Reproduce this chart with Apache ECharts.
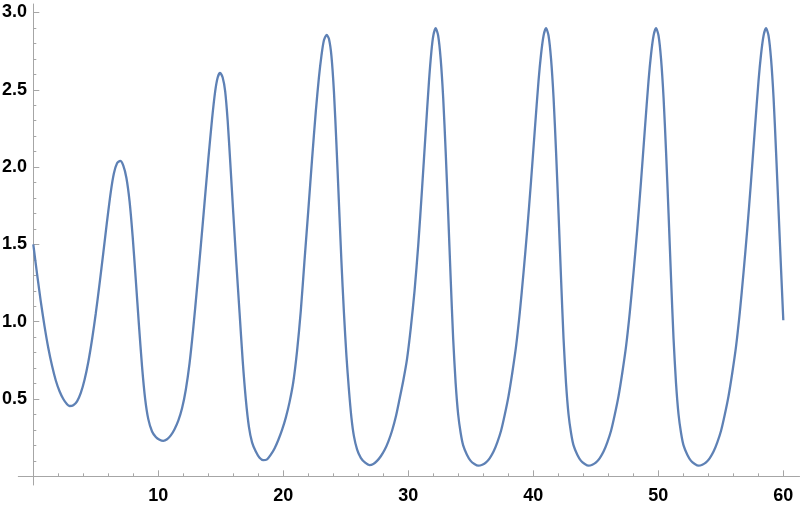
<!DOCTYPE html>
<html>
<head>
<meta charset="utf-8">
<script src="https://cdn.jsdelivr.net/npm/echarts@6/dist/echarts.min.js"></script>
<style>html,body{margin:0;padding:0;background:#fff}#c{width:800px;height:505px}</style>
</head>
<body>
<div id="c"></div>
<script>
// t values (time), cycle by cycle
const timeCycle1 = [0,0.3,0.6,0.9,1.2,1.5,1.8,2.1,2.4,2.7,2.9,3.2,3.5,3.8,4.1,4.4,4.7,5.0,5.3,5.6,5.9,6.2,6.45,6.7,6.95,7.2,7.45,7.7,7.95,8.2,8.45,8.7,8.95,9.2,9.5,9.8,10.1];
const valueCycle1 = [1.50,1.31,1.13,0.97,0.83,0.715,0.62,0.55,0.50,0.466,0.455,0.46,0.485,0.54,0.625,0.74,0.885,1.055,1.245,1.445,1.65,1.84,1.96,2.025,2.04,2.01,1.93,1.78,1.55,1.27,0.98,0.71,0.50,0.37,0.29,0.255,0.237];
const timeCycle2 = [10.4,10.7,11.0,11.3,11.6,11.9,12.2,12.5,12.8,13.1,13.4,13.7,14.0,14.3,14.55,14.75,14.94,15.15,15.35,15.55,15.75,16.0,16.25,16.5,16.75,17.0,17.25,17.5,17.8,18.1];
const valueCycle2 = [0.23,0.24,0.265,0.305,0.36,0.44,0.56,0.73,0.96,1.22,1.49,1.77,2.05,2.31,2.49,2.58,2.61,2.58,2.49,2.30,2.04,1.70,1.37,1.06,0.75,0.50,0.32,0.22,0.16,0.12];
const timeCycle3 = [18.4,18.7,19.0,19.3,19.6,19.9,20.2,20.5,20.8,21.1,21.4,21.7,22.0,22.3,22.6,22.85,23.05,23.25,23.47,23.65,23.85,24.05,24.25,24.45,24.65,24.85,25.05,25.25,25.45,25.65,25.9,26.2,26.55];
const valueCycle3 = [0.105,0.11,0.14,0.18,0.235,0.30,0.38,0.48,0.61,0.81,1.07,1.40,1.72,2.05,2.36,2.58,2.72,2.82,2.855,2.83,2.72,2.49,2.15,1.77,1.39,1.06,0.78,0.56,0.38,0.26,0.175,0.12,0.088];
const timeCycle4 = [26.9,27.2,27.5,27.8,28.1,28.4,28.7,29.0,29.3,29.6,29.9,30.2,30.5,30.8,31.1,31.4,31.65,31.85,32.0,32.19,32.39,32.59,32.79,32.99,33.19,33.39,33.59,33.79,33.99,34.19,34.39,34.69,34.99,35.29];
const valueCycle4 = [0.073,0.08,0.10,0.13,0.17,0.225,0.295,0.385,0.50,0.62,0.76,0.96,1.20,1.50,1.86,2.24,2.55,2.75,2.85,2.898,2.85,2.70,2.45,2.10,1.70,1.28,0.89,0.60,0.40,0.28,0.20,0.14,0.10,0.08];
const timeCycle5 = [35.6,35.92,36.22,36.52,36.82,37.12,37.42,37.72,38.02,38.32,38.62,38.92,39.22,39.52,39.82,40.12,40.42,40.62,40.82,41.02,41.22,41.42,41.62,41.82,42.02,42.22,42.42,42.62,42.82,43.02,43.22,43.52,43.82,44.12];
const valueCycle5 = [0.069,0.075,0.09,0.118,0.16,0.22,0.295,0.40,0.52,0.67,0.84,1.06,1.32,1.60,1.91,2.24,2.56,2.73,2.85,2.898,2.85,2.70,2.45,2.10,1.70,1.28,0.89,0.60,0.40,0.28,0.20,0.14,0.10,0.08];
const timeCycle6 = [44.42,44.72,45.02,45.32,45.62,45.92,46.22,46.52,46.82,47.12,47.42,47.72,48.02,48.32,48.62,48.92,49.22,49.42,49.62,49.82,50.02,50.22,50.42,50.62,50.82,51.02,51.22,51.42,51.62,51.82,52.02,52.32,52.62,52.92];
const valueCycle6 = [0.069,0.075,0.09,0.118,0.16,0.22,0.295,0.40,0.52,0.67,0.84,1.06,1.32,1.60,1.91,2.24,2.56,2.73,2.85,2.898,2.85,2.70,2.45,2.10,1.70,1.28,0.89,0.60,0.40,0.28,0.20,0.14,0.10,0.08];
const timeCycle7 = [53.22,53.52,53.82,54.12,54.42,54.72,55.02,55.32,55.62,55.92,56.22,56.52,56.82,57.12,57.42,57.72,58.02,58.22,58.42,58.62,58.82,59.02,59.22,59.42,59.62,59.82,60];
const valueCycle7 = [0.069,0.075,0.09,0.118,0.16,0.22,0.295,0.40,0.52,0.67,0.84,1.06,1.32,1.60,1.91,2.24,2.56,2.73,2.85,2.898,2.85,2.70,2.45,2.10,1.72,1.34,1.01];

const xTickLabels = [10,20,30,40,50,60];
const xMinorTicks = [2,4,6,8,12,14,16,18,22,24,26,28,32,34,36,38,42,44,46,48,52,54,56,58];
const yTickLabels = [0.5,1.0,1.5,2.0,2.5,3.0];
const yMinorTicks = [0.1,0.2,0.3,0.4,0.6,0.7,0.8,0.9,1.1,1.2,1.3,1.4,1.6,1.7,1.8,1.9,2.1,2.2,2.3,2.4,2.6,2.7,2.8,2.9];

const timeValues = [].concat(timeCycle1,timeCycle2,timeCycle3,timeCycle4,timeCycle5,timeCycle6,timeCycle7);
const seriesValues = [].concat(valueCycle1,valueCycle2,valueCycle3,valueCycle4,valueCycle5,valueCycle6,valueCycle7);

const axisGray = '#a6a6a6';
const labelFont = {color:'#000', fontFamily:'Liberation Sans, Arial, sans-serif', fontWeight:'bold', fontSize:18};
const X_MIN = -1.2, X_MAX = 61.3, Y_MIN = -0.056, Y_MAX = 3.055;

const chart = echarts.init(document.getElementById('c'), null, {renderer:'canvas'});
chart.setOption({
  animation:false,
  grid:{left:18.3, right:0.45, top:4, bottom:20, containLabel:false, outerBoundsMode:'none'},
  xAxis:[{
    type:'value', min:X_MIN, max:X_MAX, position:'bottom',
    axisLine:{show:true, onZero:true, lineStyle:{color:axisGray, width:1}},
    axisTick:{show:true, inside:true, length:6, customValues:xTickLabels, lineStyle:{color:axisGray}},
    axisLabel:{show:true, customValues:xTickLabels, margin:2, ...labelFont},
    splitLine:{show:false}
  },{
    type:'value', min:X_MIN, max:X_MAX, position:'bottom',
    axisLine:{show:false, onZero:true},
    axisTick:{show:true, inside:true, length:3, customValues:xMinorTicks, lineStyle:{color:axisGray}},
    axisLabel:{show:false},
    splitLine:{show:false}
  }],
  yAxis:[{
    type:'value', min:Y_MIN, max:Y_MAX, position:'left',
    axisLine:{show:true, onZero:true, lineStyle:{color:axisGray, width:1}},
    axisTick:{show:true, inside:true, length:6, customValues:yTickLabels, lineStyle:{color:axisGray}},
    axisLabel:{show:true, customValues:yTickLabels, margin:-8.7, formatter:v=>Number(v).toFixed(1), ...labelFont},
    splitLine:{show:false}
  },{
    type:'value', min:Y_MIN, max:Y_MAX, position:'left',
    axisLine:{show:false, onZero:true},
    axisTick:{show:true, inside:true, length:3, customValues:yMinorTicks, lineStyle:{color:axisGray}},
    axisLabel:{show:false},
    splitLine:{show:false}
  }],
  series:[{
    type:'line', xAxisIndex:0, yAxisIndex:0,
    data: timeValues.map((t,i)=>[t, seriesValues[i]]),
    showSymbol:false, smooth:0.25,
    lineStyle:{color:'#5E81B5', width:2.3},
    itemStyle:{color:'#5E81B5'}
  }]
});
</script>
</body>
</html>
